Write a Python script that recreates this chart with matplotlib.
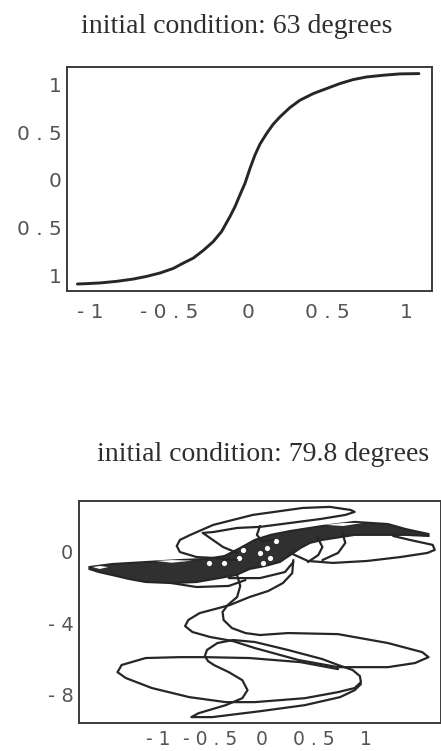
import matplotlib
matplotlib.use("Agg")
import matplotlib.pyplot as plt

# ---------------- data: top panel (63 degrees) ----------------
sig_x = [-1.080, -1.021, -0.937, -0.831, -0.726, -0.641, -0.557, -0.473, -0.409, -0.346,
         -0.283, -0.219, -0.167, -0.114, -0.082, -0.051, -0.019, 0.013, 0.044, 0.076,
         0.118, 0.160, 0.203, 0.266, 0.329, 0.414, 0.498, 0.582, 0.667, 0.751, 0.857,
         0.962, 1.082]
sig_y = [-1.087, -1.083, -1.076, -1.059, -1.035, -1.007, -0.972, -0.924, -0.868, -0.816,
         -0.736, -0.642, -0.538, -0.382, -0.278, -0.156, -0.035, 0.122, 0.260, 0.375,
         0.486, 0.583, 0.660, 0.757, 0.833, 0.903, 0.955, 1.007, 1.049, 1.076, 1.094,
         1.108, 1.111]

top_xticks = [-1, -0.5, 0, 0.5, 1]
top_xlabels = ["- 1", "- 0 . 5", "0", "0 . 5", "1"]
top_yticks = [-1, -0.5, 0, 0.5, 1]
top_ylabels = ["1", "0 . 5", "0", "0 . 5", "1"]

# ---------------- data: bottom panel (79.8 degrees) ----------------
band_x = [-1.66, -1.44, -1.12, -0.80, -0.54, -0.36, -0.21, -0.07, 0.08, 0.27, 0.58, 0.89, 1.21, 1.38, 1.60,
          1.60, 1.38, 1.21, 0.89, 0.58, 0.46, 0.37, 0.27, 0.17, 0.03, -0.12, -0.25, -0.41, -0.63, -0.87,
          -1.12, -1.28, -1.44, -1.57, -1.66]
band_y = [-0.86, -0.69, -0.58, -0.47, -0.41, -0.24, 0.21, 0.66, 0.94, 1.16, 1.44, 1.67, 1.55, 1.27, 0.99,
          0.88, 0.94, 0.94, 0.94, 0.66, 0.49, 0.21, -0.19, -0.58, -0.80, -0.97, -1.31, -1.48, -1.70, -1.76,
          -1.70, -1.53, -1.31, -1.14, -0.97]

lens1_x = [-1.63, -1.56, -1.48, -1.56, -1.63]
lens1_y = [-0.86, -0.80, -0.86, -0.97, -0.86]
lens2_x = [-1.02, -0.87, -0.67, -0.87, -1.02]
lens2_y = [-0.52, -0.47, -0.50, -0.62, -0.52]
lens3_x = [0.61, 0.78, 0.96, 0.78, 0.61]
lens3_y = [1.50, 1.61, 1.61, 1.44, 1.50]

hole_x = [-0.51, -0.37, -0.22, -0.18, 0.13, 0.05, -0.02, 0.08, 0.01]
hole_y = [-0.63, -0.63, -0.35, 0.10, 0.60, 0.21, -0.07, -0.35, -0.63]

loop_upper_x = [-0.82, -0.79, -0.69, -0.47, -0.09, 0.39, 0.65, 0.85, 0.89, 0.80, 0.56, 0.27,
                -0.02, -0.24, -0.47, -0.57]
loop_upper_y = [0.32, 0.66, 0.94, 1.50, 2.06, 2.45, 2.51, 2.34, 2.23, 2.06, 1.83, 1.61,
                1.39, 1.33, 1.10, 1.05]

bump_x = [-0.82, -0.79, -0.63, -0.47, -0.24]
bump_y = [0.32, -0.02, -0.30, -0.35, -0.47]

arc_in_x = [-0.57, -0.375, -0.24]
arc_in_y = [1.05, 0.26, -0.07]

small_loop_x = [-0.02, -0.05, 0.00, 0.11]
small_loop_y = [1.44, 0.94, 0.60, 0.66]

loop_right_x = [0.27, 0.44, 0.68, 1.01, 1.33, 1.59, 1.66, 1.64, 1.42, 1.26]
loop_right_y = [-0.07, -0.52, -0.63, -0.52, -0.30, -0.07, 0.10, 0.38, 0.66, 0.88]

vert1_x = [0.53, 0.58, 0.54, 0.44]
vert1_y = [0.82, 0.26, -0.19, -0.58]
vert2_x = [0.77, 0.80, 0.73, 0.58]
vert2_y = [1.10, 0.49, -0.07, -0.47]

lens_low1_x = [-0.87, -0.63, -0.32, -0.16]
lens_low1_y = [-1.76, -1.98, -1.92, -1.59]
lens_low2_x = [-0.32, -0.02, 0.22, 0.30]
lens_low2_y = [-1.48, -1.48, -1.14, -0.58]

segA_x = [0.30, 0.29, 0.20, 0.06, -0.12, -0.31, -0.45, -0.60, -0.71, -0.74, -0.67, -0.50, -0.28,
          -0.07, 0.35, 0.73]
segA_y = [-0.47, -1.20, -1.76, -2.20, -2.54, -2.99, -3.21, -3.44, -3.83, -4.17, -4.50, -4.78, -5.01,
          -5.40, -6.07, -6.47]

segB_x = [-0.24, -0.21, -0.24, -0.33, -0.38, -0.37, -0.29, -0.16, -0.02, 0.25, 0.73, 1.21, 1.54,
          1.60, 1.47, 1.21, 0.96, 0.73]
segB_y = [-1.31, -1.92, -2.54, -2.99, -3.38, -3.83, -4.28, -4.56, -4.67, -4.56, -4.62, -5.12, -5.63,
          -5.91, -6.24, -6.47, -6.47, -6.47]

segC_x = [-0.28, -0.07, 0.25, 0.58, 0.73, 0.87, 0.94, 0.95, 0.89, 0.73, 0.41, -0.07, -0.35, -0.70,
          -1.06, -1.31, -1.39, -1.35, -1.12, -0.80, -0.54, -0.12, 0.37, 0.73]
segC_y = [-4.95, -5.06, -5.51, -6.02, -6.35, -6.63, -6.97, -7.31, -7.64, -7.87, -8.21, -8.43, -8.43, -8.15,
          -7.64, -7.08, -6.75, -6.35, -5.96, -5.91, -5.91, -5.96, -6.19, -6.58]

segD_x = [-0.28, -0.43, -0.53, -0.55, -0.52, -0.46, -0.32, -0.19, -0.14, -0.19, -0.35, -0.61, -0.68,
          -0.48, -0.02, 0.41, 0.75, 0.89, 0.95]
segD_y = [-4.95, -5.12, -5.51, -5.85, -6.13, -6.36, -6.75, -7.20, -7.76, -8.21, -8.60, -9.05, -9.27,
          -9.27, -8.94, -8.60, -8.15, -7.76, -7.42]

bot_xticks = [-1, -0.5, 0, 0.5, 1]
bot_xlabels = ["- 1", "- 0 . 5", "0", "0 . 5", "1"]
bot_yticks = [0, -4, -8]
bot_ylabels = ["0", "- 4", "- 8"]

# ---------------- figure ----------------
W, H = 441, 751
fig = plt.figure(figsize=(W / 100, H / 100), dpi=100)
fig.patch.set_facecolor("white")

INK = "#262626"
TICKC = "#555555"


def style_axes(ax):
    for s in ax.spines.values():
        s.set_linewidth(1.4)
        s.set_color("#3a3a3a")
    ax.tick_params(length=0)


# top panel
ax1 = fig.add_axes([67 / W, 1 - 291 / H, (432 - 67) / W, (291 - 67) / H])
ax1.plot(sig_x, sig_y, color=INK, lw=2.1, solid_capstyle="round", solid_joinstyle="round")
ax1.set_xlim(-1.146, 1.165)
ax1.set_ylim(-1.16, 1.18)
ax1.set_xticks(top_xticks)
ax1.set_xticklabels(top_xlabels, family="DejaVu Sans", size=14.5, color=TICKC)
ax1.set_yticks(top_yticks)
ax1.set_yticklabels(top_ylabels, family="DejaVu Sans", size=14.5, color=TICKC)
style_axes(ax1)
ax1.tick_params(axis="x", pad=9)
ax1.tick_params(axis="y", pad=4)

# bottom panel
ax2 = fig.add_axes([79 / W, 1 - 723 / H, (440.5 - 79) / W, (723 - 501) / H])
ax2.fill(band_x, band_y, color="#303030", ec=INK, lw=1.5, zorder=2)
for lx, ly in [(lens1_x, lens1_y), (lens2_x, lens2_y), (lens3_x, lens3_y)]:
    ax2.fill(lx, ly, color="white", ec="none", zorder=3)
ax2.scatter(hole_x, hole_y, s=14, color="white", marker="o", zorder=3, linewidths=0)
for sx, sy in [(loop_upper_x, loop_upper_y), (bump_x, bump_y), (arc_in_x, arc_in_y),
               (small_loop_x, small_loop_y), (loop_right_x, loop_right_y),
               (vert1_x, vert1_y), (vert2_x, vert2_y), (lens_low1_x, lens_low1_y),
               (lens_low2_x, lens_low2_y), (segA_x, segA_y), (segB_x, segB_y),
               (segC_x, segC_y), (segD_x, segD_y)]:
    ax2.plot(sx, sy, color=INK, lw=1.6, solid_joinstyle="round", solid_capstyle="round", zorder=4)
ax2.set_xlim(-1.76, 1.715)
ax2.set_ylim(-9.6, 2.84)
ax2.set_xticks(bot_xticks)
ax2.set_xticklabels(bot_xlabels, family="DejaVu Sans", size=13.5, color=TICKC)
ax2.set_yticks(bot_yticks)
ax2.set_yticklabels(bot_ylabels, family="DejaVu Sans", size=14, color=TICKC)
style_axes(ax2)
ax2.tick_params(axis="x", pad=5)
ax2.tick_params(axis="y", pad=4)

# titles
fig.text(237 / W, 1 - 33 / H, "initial condition: 63 degrees", ha="center", va="baseline",
         family="Liberation Serif", size=20, color="#2e2e2e")
fig.text(263.5 / W, 1 - 461 / H, "initial condition: 79.8 degrees", ha="center", va="baseline",
         family="Liberation Serif", size=20, color="#2e2e2e")

fig.savefig("out.png", dpi=100, facecolor="white")
